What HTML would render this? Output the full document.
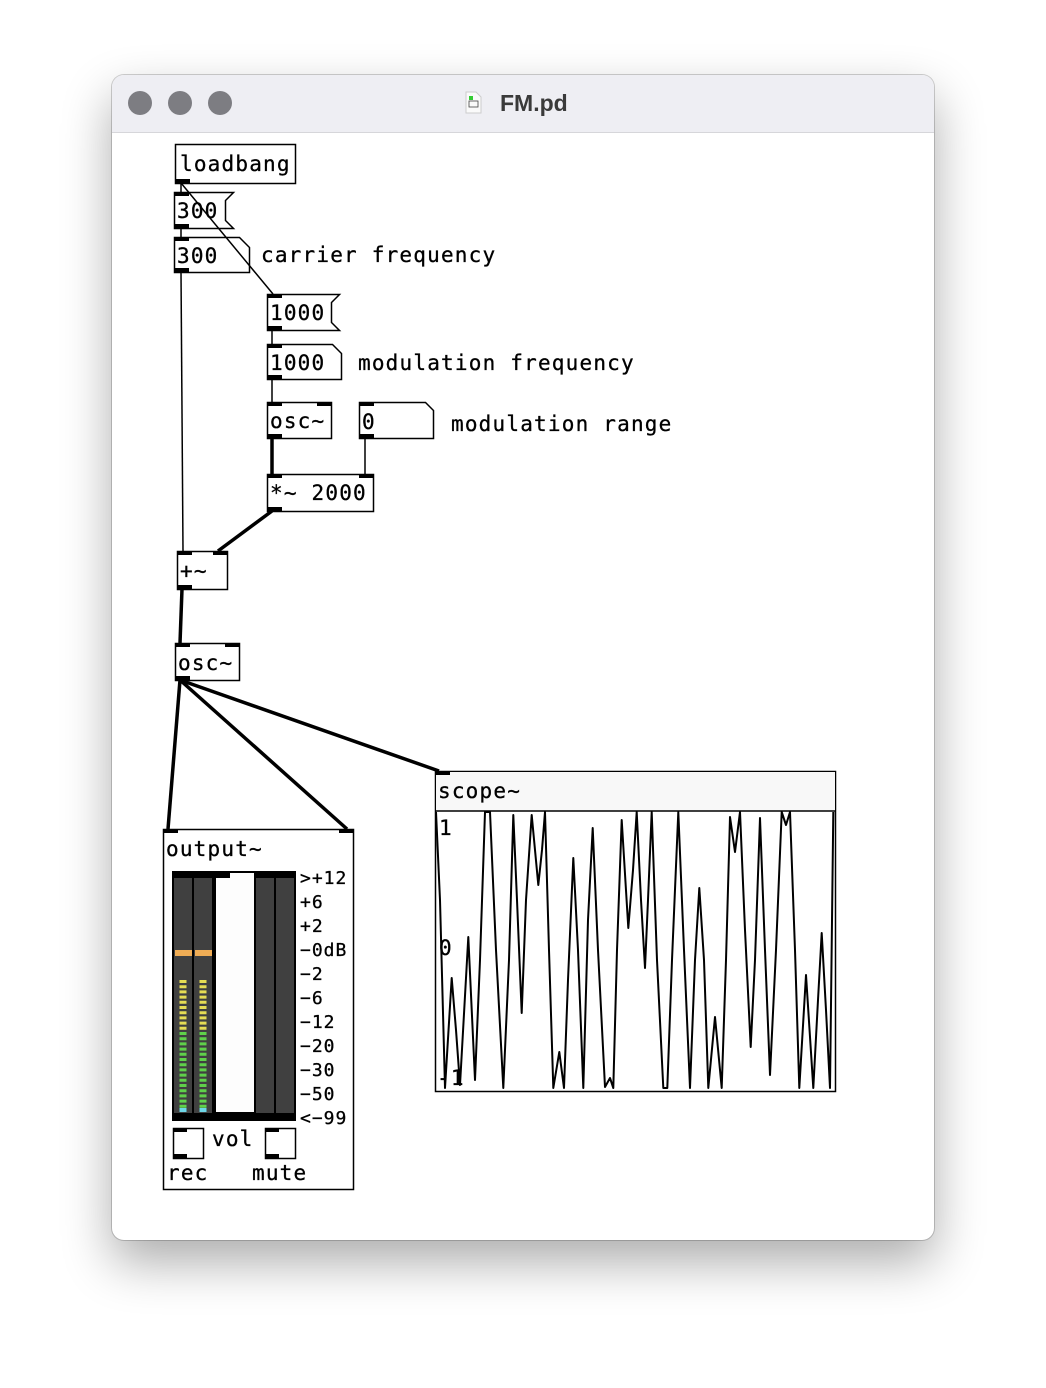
<!DOCTYPE html>
<html><head><meta charset="utf-8"><style>
html,body{margin:0;padding:0;background:#fff;width:1046px;height:1388px;overflow:hidden}
.win{position:absolute;left:112px;top:75px;width:822px;height:1165px;border-radius:12px;background:#fff;box-shadow:0 22px 50px rgba(0,0,0,.33),0 0 0 1px rgba(0,0,0,.18);overflow:hidden}
svg{position:absolute;left:0;top:0}
</style></head><body>
<div class="win"></div>
<svg width="1046" height="1388" viewBox="0 0 1046 1388" font-family="'DejaVu Sans Mono','Liberation Mono',monospace">
<defs><clipPath id="wc"><rect x="112" y="75" width="822" height="1165" rx="12"/></clipPath></defs>
<g clip-path="url(#wc)">
<rect x="112" y="75" width="822" height="57" fill="#eeeef3"/>
<line x1="112" y1="132.5" x2="934" y2="132.5" stroke="#d6d6da"/>
</g>
<circle cx="140" cy="103" r="12" fill="#7d7d82"/>
<circle cx="180" cy="103" r="12" fill="#7d7d82"/>
<circle cx="220" cy="103" r="12" fill="#7d7d82"/>
<path d="M466 92h10l5 5v16h-15z" fill="#fafafa" stroke="#ccc"/>
<rect x="469" y="96" width="4" height="4" fill="#3c3"/>
<rect x="469" y="101" width="9" height="6" fill="none" stroke="#444" stroke-width="0.8"/>
<text x="500" y="111" font-family="'Liberation Sans',sans-serif" font-weight="bold" font-size="23" fill="#3a3a3a">FM.pd</text>

<g stroke="#000" fill="none">
<line x1="181" y1="183" x2="181" y2="192" stroke-width="1.5"/>
<line x1="181" y1="228" x2="181" y2="237" stroke-width="1.5"/>
<line x1="181" y1="272" x2="183" y2="551" stroke-width="1.5"/>
<line x1="272" y1="330" x2="272" y2="344" stroke-width="1.5"/>
<line x1="272" y1="379" x2="272" y2="402" stroke-width="1.5"/>
<line x1="365" y1="438" x2="365" y2="474" stroke-width="1.5"/>
<line x1="272" y1="438" x2="272" y2="474" stroke-width="3.5"/>
<line x1="272" y1="511" x2="218" y2="551" stroke-width="3.5"/>
<line x1="182" y1="589" x2="180" y2="643" stroke-width="3.5"/>
<line x1="180" y1="680" x2="168" y2="829" stroke-width="3.5"/>
<line x1="180" y1="680" x2="347" y2="829" stroke-width="3.5"/>
<line x1="180" y1="680" x2="439" y2="771" stroke-width="3.5"/>

<rect x="175.5" y="144.5" width="120" height="39" fill="#fff" stroke-width="1.5"/>
<path d="M174.5 192.5h59l-8 8v20l8 8h-59z" fill="#fff" stroke-width="1.5"/>
<path d="M174.5 237.5h65l10 10v25h-75z" fill="#fff" stroke-width="1.5"/>
<path d="M267.5 294.5h72l-8 8v20l8 8h-72z" fill="#fff" stroke-width="1.5"/>
<path d="M267.5 344.5h65l9 9v26h-74z" fill="#fff" stroke-width="1.5"/>
<rect x="267.5" y="402.5" width="64" height="36" fill="#fff" stroke-width="1.5"/>
<path d="M359.5 402.5h66l8 8v28h-74z" fill="#fff" stroke-width="1.5"/>
<rect x="267.5" y="474.5" width="106" height="37" fill="#fff" stroke-width="1.5"/>
<rect x="177.5" y="551.5" width="50" height="38" fill="#fff" stroke-width="1.5"/>
<rect x="175.5" y="643.5" width="64" height="37" fill="#fff" stroke-width="1.5"/>
<rect x="163.5" y="829.5" width="190" height="360" fill="#fff" stroke-width="1.5"/>
<rect x="435.5" y="771.5" width="400" height="320" fill="#fff" stroke-width="1.5"/>
<rect x="436" y="772" width="399" height="39" fill="#f8f8f8" stroke="none"/>
<line x1="435" y1="811" x2="835" y2="811" stroke-width="1.5"/>
</g>

<g fill="#000">
<rect x="175" y="179" width="15" height="4"/>
<rect x="174" y="192" width="15" height="4"/><rect x="174" y="224" width="15" height="4"/>
<rect x="174" y="237" width="15" height="4"/><rect x="174" y="268" width="15" height="4"/>
<rect x="267" y="294" width="15" height="4"/><rect x="267" y="326" width="15" height="4"/>
<rect x="267" y="344" width="15" height="4"/><rect x="267" y="375" width="15" height="4"/>
<rect x="267" y="402" width="15" height="4"/><rect x="317" y="402" width="15" height="4"/><rect x="267" y="434" width="15" height="4"/>
<rect x="359" y="402" width="15" height="4"/><rect x="359" y="434" width="15" height="4"/>
<rect x="267" y="474" width="15" height="4"/><rect x="359" y="474" width="15" height="4"/><rect x="267" y="507" width="15" height="4"/>
<rect x="177" y="551" width="15" height="4"/><rect x="213" y="551" width="15" height="4"/><rect x="177" y="585" width="15" height="4"/>
<rect x="175" y="643" width="15" height="4"/><rect x="225" y="643" width="15" height="4"/><rect x="175" y="676" width="15" height="4"/>
<rect x="163" y="829" width="15" height="4"/><rect x="339" y="829" width="15" height="4"/>
<rect x="435" y="771" width="15" height="4"/>
</g>
<line x1="181" y1="183" x2="273" y2="294" stroke="#000" stroke-width="1.5"/>

<g font-size="21" letter-spacing="1.2" fill="#000" stroke="#000" stroke-width="0.3">
<text x="180" y="171">loadbang</text>
<text x="177" y="218">300</text>
<text x="177" y="263">300</text>
<text x="261" y="262">carrier frequency</text>
<text x="270" y="320">1000</text>
<text x="270" y="370">1000</text>
<text x="358" y="370">modulation frequency</text>
<text x="270" y="428">osc~</text>
<text x="362" y="429">0</text>
<text x="451" y="431">modulation range</text>
<text x="270" y="500">*~ 2000</text>
<text x="180" y="578">+~</text>
<text x="178" y="670">osc~</text>
<text x="166" y="856">output~</text>
<text x="438" y="798">scope~</text>
<text x="212" y="1146">vol</text>
<text x="167" y="1180">rec</text>
<text x="252" y="1180">mute</text>
<text x="439" y="835">1</text>
<text x="439" y="955">0</text>
<text x="437" y="1085">-1</text>
</g>

<rect x="172" y="871" width="124" height="250" fill="#000"/>
<g fill="#404040">
<rect x="174" y="878" width="18" height="235"/>
<rect x="194" y="878" width="18" height="235"/>
<rect x="256" y="878" width="18" height="235"/>
<rect x="276" y="878" width="18" height="235"/>
</g>
<path d="M216 878h14v-5h24v239h-38z" fill="#fdfdfd"/>
<rect x="175" y="950" width="17" height="6" fill="#f0ad55"/>
<rect x="195" y="950" width="17" height="6" fill="#f0ad55"/>
<g stroke-width="7" stroke-dasharray="3 2.2">
<line x1="183" y1="980" x2="183" y2="1032" stroke="#e6dc54"/>
<line x1="203" y1="980" x2="203" y2="1032" stroke="#e6dc54"/>
<line x1="183" y1="1032" x2="183" y2="1108" stroke="#5fd14a"/>
<line x1="203" y1="1032" x2="203" y2="1108" stroke="#5fd14a"/>
</g>
<rect x="179.5" y="1108" width="7" height="4" fill="#6dd6e6"/>
<rect x="199.5" y="1108" width="7" height="4" fill="#6dd6e6"/>
<g font-size="18" letter-spacing="1" fill="#000" stroke="#000" stroke-width="0.3">
<text x="300" y="884">&gt;+12</text>
<text x="300" y="908">+6</text>
<text x="300" y="932">+2</text>
<text x="300" y="956">−0dB</text>
<text x="300" y="980">−2</text>
<text x="300" y="1004">−6</text>
<text x="300" y="1028">−12</text>
<text x="300" y="1052">−20</text>
<text x="300" y="1076">−30</text>
<text x="300" y="1100">−50</text>
<text x="300" y="1124">&lt;−99</text>
</g>
<rect x="173.5" y="1128.5" width="30" height="30" fill="#fff" stroke="#000" stroke-width="1.5"/>
<rect x="173" y="1128" width="14" height="4" fill="#000"/><rect x="173" y="1154" width="14" height="4" fill="#000"/>
<rect x="265.5" y="1128.5" width="30" height="30" fill="#fff" stroke="#000" stroke-width="1.5"/>
<rect x="265" y="1128" width="14" height="4" fill="#000"/><rect x="265" y="1154" width="14" height="4" fill="#000"/>

<polyline fill="none" stroke="#000" stroke-width="2" stroke-linejoin="round" points="436,812 440,900 445,1088 451.7,978 456,1030 460,1085 468.3,937 475,1080 480,960 485,812 490,812 496,950 503.3,1088 509,960 513.3,815 517,900 521.7,1013 526,900 531.7,815 535,850 538.3,885 542,850 545,812 549,950 553.3,1088 559.3,1052 564,1088 568,980 573.3,858 578,950 583.3,1088 588,920 592.7,828 598,950 605,1087 610,1078 613.3,1088 617,950 621.7,820 628.3,928 633,870 636.7,812 641,900 645,968 648,900 651.7,812 657,960 663.3,1088 667.3,1088 672,960 678.3,812 684,950 690,1088 695,960 699.3,888 704,960 708.3,1088 715,1017 721.7,1088 726,960 730,817 735,852 740,812 745,930 750.7,1047 755,960 760,818 765,950 770,1075 776,950 781.7,812 786,825 790,812 795,950 799.3,1088 806,975 813.3,1088 818,1000 821.7,933 826,1010 830,1088 833.3,812"/>
</svg>
</body></html>
